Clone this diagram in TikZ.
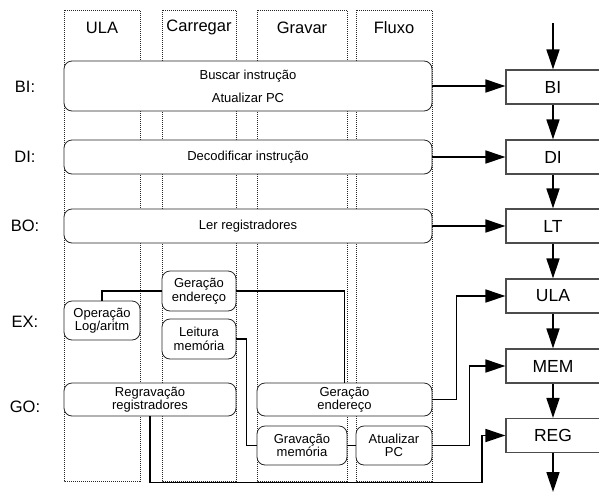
\documentclass[tikz,border=0pt]{standalone}
\usepackage{fontspec}
\setmainfont{Liberation Sans}
\usetikzlibrary{arrows.meta}
\begin{document}
\begin{tikzpicture}[x=1pt,y=-1pt,
  lane/.style={draw=black!85, line width=0.7pt, dash pattern=on 1pt off 1pt},
  stage/.style={draw=black!85, line width=0.8pt, rounded corners=8pt, fill=white,
    inner sep=0pt, align=center, font=\fontsize{13}{13.5}\selectfont},
  pipe/.style={draw=black!70, line width=1.1pt, fill=white, inner sep=0pt,
    minimum width=94pt, minimum height=34pt, font=\fontsize{17.5}{20}\selectfont},
  lanehead/.style={font=\fontsize{16.5}{18}\selectfont},
  rowlabel/.style={font=\fontsize{16.5}{18}\selectfont},
  link/.style={line width=1.5pt},
  feed/.style={line width=1.5pt, -{Triangle[length=20pt,width=13pt]}},
]
\useasboundingbox (0,0) rectangle (599,493);

% functional-unit lanes
\draw[lane] (64,10) rectangle (140,481);
\draw[lane] (162,10) rectangle (236,481);
\draw[lane] (257,10) rectangle (347,481);
\draw[lane] (356,10) rectangle (432,481);
\node[lanehead] (hULA) at (102,27.5) {ULA};
\node[lanehead] (hCar) at (199,27.5) {Carregar};
\node[lanehead] (hGra) at (302,27.5) {Gravar};
\node[lanehead] (hFlu) at (394,27.5) {Fluxo};

% stage labels
\node[rowlabel] (lBI) at (25,87) {BI:};
\node[rowlabel] (lDI) at (25,157) {DI:};
\node[rowlabel] (lBO) at (25,226) {BO:};
\node[rowlabel] (lEX) at (25,322) {EX:};
\node[rowlabel] (lGO) at (25,407) {GO:};

% operations per stage
\node[stage, minimum width=368pt, minimum height=50pt,
  font=\fontsize{13}{23}\selectfont] (bi) at (248,86) {Buscar instrução\\Atualizar PC};
\node[stage, minimum width=368pt, minimum height=34pt] (di) at (248,157) {Decodificar instrução};
\node[stage, minimum width=368pt, minimum height=34pt] (bo) at (248,226) {Ler registradores};
\node[stage, minimum width=76pt, minimum height=39pt] (op) at (102,320.5) {Operação\\Log/aritm};
\node[stage, minimum width=74pt, minimum height=40pt] (gex) at (199,291) {Geração\\endereço};
\node[stage, minimum width=74pt, minimum height=40pt] (leit) at (199,339) {Leitura\\memória};
\node[stage, minimum width=172pt, minimum height=33pt] (regr) at (150,399.5) {Regravação\\registradores};
\node[stage, minimum width=175pt, minimum height=33pt] (ggo) at (344.5,399.5) {Geração\\endereço};
\node[stage, minimum width=90pt, minimum height=39pt] (grav) at (302,445.5) {Gravação\\memória};
\node[stage, minimum width=76pt, minimum height=39pt] (atpc) at (394,445.5) {Atualizar\\PC};

% pipeline stages
\node[pipe] (rBI) at (553,87) {BI};
\node[pipe] (rDI) at (553,157) {DI};
\node[pipe] (rLT) at (553,226) {LT};
\node[pipe] (rULA) at (553,296) {ULA};
\node[pipe] (rMEM) at (553,366) {MEM};
\node[pipe] (rREG) at (553,435.5) {REG};
\coordinate (pin) at (553,23);
\coordinate (pout) at (553,492);

% pipeline flow
\draw[feed] (pin) -- (rBI.north);
\draw[feed] (rBI.south) -- (rDI.north);
\draw[feed] (rDI.south) -- (rLT.north);
\draw[feed] (rLT.south) -- (rULA.north);
\draw[feed] (rULA.south) -- (rMEM.north);
\draw[feed] (rMEM.south) -- (rREG.north);
\draw[feed] (rREG.south) -- (pout);

% stage outputs
\draw[feed] (bi.east) -- (bi.east -| rBI.west);
\draw[feed] (di.east) -- (rDI.west);
\draw[feed] (bo.east) -- (rLT.west);
\draw[feed] (ggo.east) -- ++(24,0) |- (rULA.west);
\draw[feed] (atpc.east) -- ++(37,0) |- (rMEM.west);
\draw[feed] (regr.south) -- ++(0,66) -- ++(332,0) |- (rREG.west);

% internal paths
\draw[link] (op.north) |- (gex.west);
\draw[link] (gex.east) -| (ggo.north);
\draw[link] (leit.east) -- ++(10,0) |- (grav.west);
\draw[link] (grav.east) -- (atpc.west);
\end{tikzpicture}
\end{document}
